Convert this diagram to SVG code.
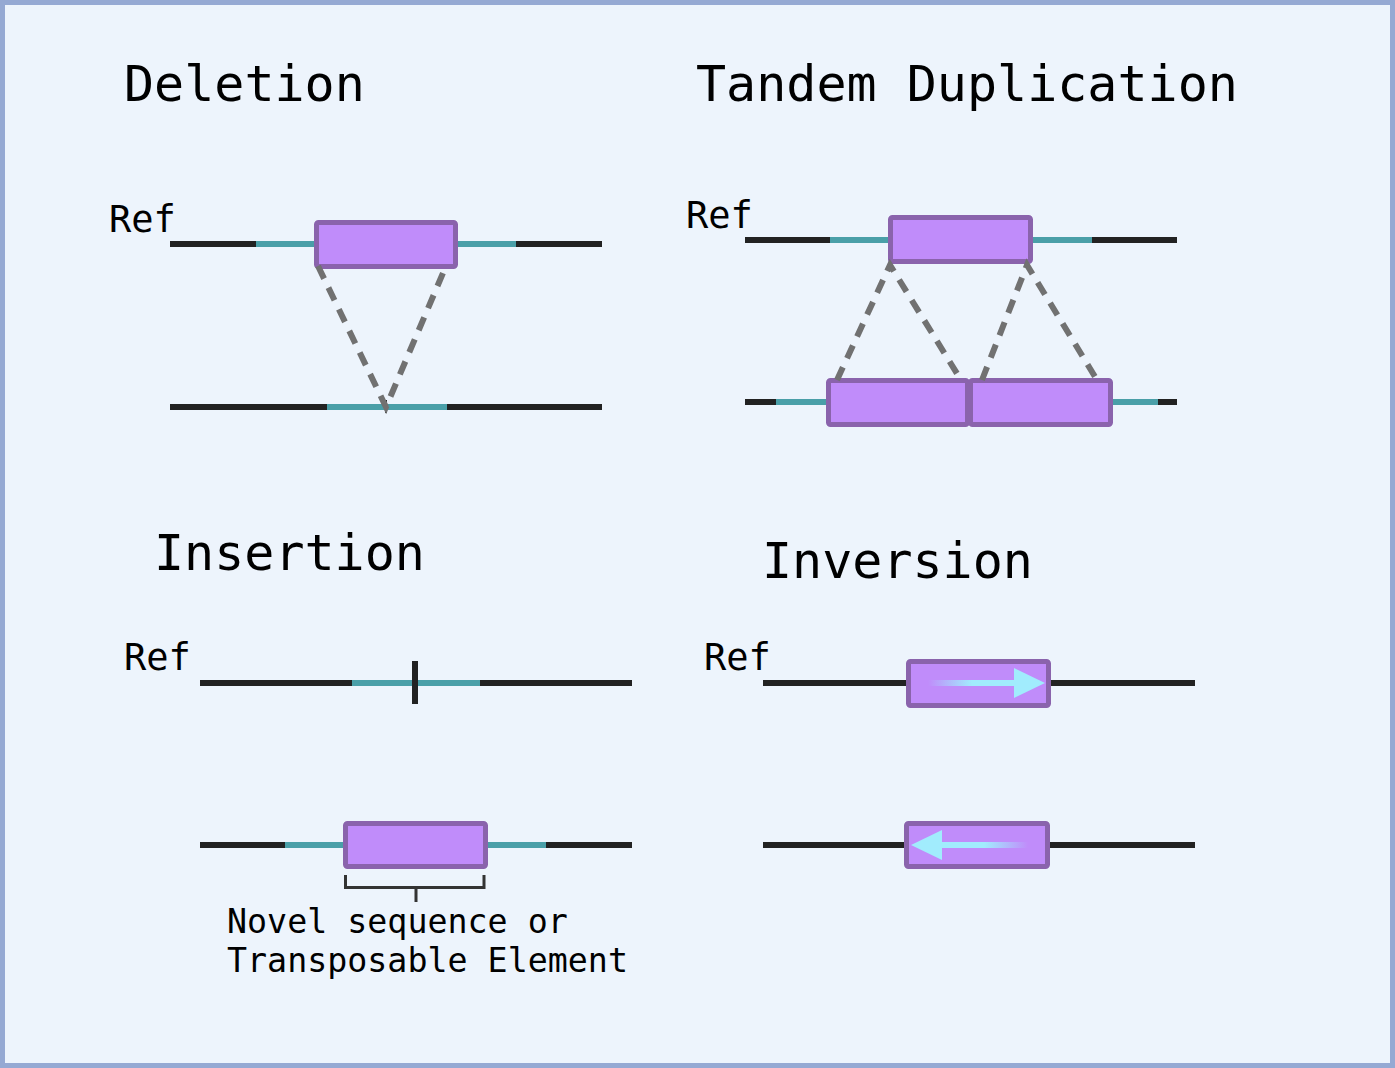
<svg xmlns="http://www.w3.org/2000/svg" width="1395" height="1068" viewBox="0 0 1395 1068">
<defs>
<style>
.t{font-family:"DejaVu Sans Mono","Liberation Mono",monospace;fill:#000}
.title{font-size:50px}
.ref{font-size:37px}
.note{font-size:33.3px}
.blk{stroke:#222;stroke-width:6;fill:none}
.teal{stroke:#4a9fa8;stroke-width:6;fill:none}
.box{fill:#c08cfa;stroke:#8a63ac;stroke-width:5}
.dash{stroke:#717171;stroke-width:6;stroke-dasharray:14 10;fill:none}
</style>
<linearGradient id="gr" x1="0" y1="0" x2="1" y2="0">
<stop offset="0" stop-color="#a1ecfd" stop-opacity="0"/>
<stop offset="0.5" stop-color="#a1ecfd" stop-opacity="1"/>
<stop offset="1" stop-color="#a1ecfd"/>
</linearGradient>
<linearGradient id="gl" x1="1" y1="0" x2="0" y2="0">
<stop offset="0" stop-color="#a1ecfd" stop-opacity="0"/>
<stop offset="0.5" stop-color="#a1ecfd" stop-opacity="1"/>
<stop offset="1" stop-color="#a1ecfd"/>
</linearGradient>
</defs>
<rect x="2.5" y="2.5" width="1390" height="1063" fill="#edf4fc" stroke="#95a9d3" stroke-width="5"/>

<g id="deletion">
<text class="t title" x="124" y="101">Deletion</text>
<text class="t ref" x="109" y="232">Ref</text>
<line class="blk" x1="170" y1="244" x2="602" y2="244"/>
<line class="teal" x1="256" y1="244" x2="516" y2="244"/>
<line class="blk" x1="170" y1="407" x2="602" y2="407"/>
<line class="teal" x1="327" y1="407" x2="447" y2="407"/>
<line x1="386" y1="400" x2="386" y2="413" stroke="#222" stroke-width="2"/>
<rect class="box" x="316.5" y="222.5" width="139" height="44" rx="2"/>
</g>

<g id="tandem">
<text class="t title" x="696" y="101">Tandem Duplication</text>
<text class="t ref" x="686" y="228">Ref</text>
<line class="blk" x1="745" y1="240" x2="1177" y2="240"/>
<line class="teal" x1="830" y1="240" x2="1092" y2="240"/>
<rect class="box" x="890.5" y="217.5" width="140" height="44" rx="2"/>
<line class="blk" x1="745" y1="402" x2="1177" y2="402"/>
<line class="teal" x1="776" y1="402" x2="1158" y2="402"/>
<rect class="box" x="828.5" y="380.5" width="139" height="44" rx="2"/>
<rect class="box" x="970.5" y="380.5" width="140" height="44" rx="2"/>
</g>

<g id="insertion">
<text class="t title" x="154" y="570">Insertion</text>
<text class="t ref" x="124" y="670">Ref</text>
<line class="blk" x1="200" y1="683" x2="632" y2="683"/>
<line class="teal" x1="352" y1="683" x2="480" y2="683"/>
<line x1="415" y1="661" x2="415" y2="704" stroke="#222" stroke-width="6"/>
<line class="blk" x1="200" y1="845" x2="632" y2="845"/>
<line class="teal" x1="285" y1="845" x2="546" y2="845"/>
<rect class="box" x="345.5" y="823.5" width="140" height="43" rx="2"/>
<path d="M345.5 875 V887.5 H484 V875 M416 887.5 V902" fill="none" stroke="#333" stroke-width="3"/>
<text class="t note" x="227" y="933">Novel sequence or</text>
<text class="t note" x="227" y="972">Transposable Element</text>
</g>

<g id="inversion">
<text class="t title" x="762" y="578">Inversion</text>
<text class="t ref" x="704" y="670">Ref</text>
<line class="blk" x1="763" y1="683" x2="1195" y2="683"/>
<rect class="box" x="908.5" y="661.5" width="140" height="44" rx="2"/>
<rect x="928" y="680" width="88" height="6" fill="url(#gr)"/>
<polygon points="1014,668 1045,683 1014,698" fill="#a1ecfd"/>
<line class="blk" x1="763" y1="845" x2="1195" y2="845"/>
<rect class="box" x="906.5" y="823.5" width="141" height="43" rx="2"/>
<rect x="940" y="842" width="88" height="6" fill="url(#gl)"/>
<polygon points="942,830 911,845 942,860" fill="#a1ecfd"/>
</g>

<g id="connectors">
<path class="dash" d="M318 266 L386 407 L446 266"/>
<path class="dash" d="M837 380 L890 265 L961 380"/>
<path class="dash" d="M982 380 L1027 265 L1097 380"/>
</g>
</svg>
